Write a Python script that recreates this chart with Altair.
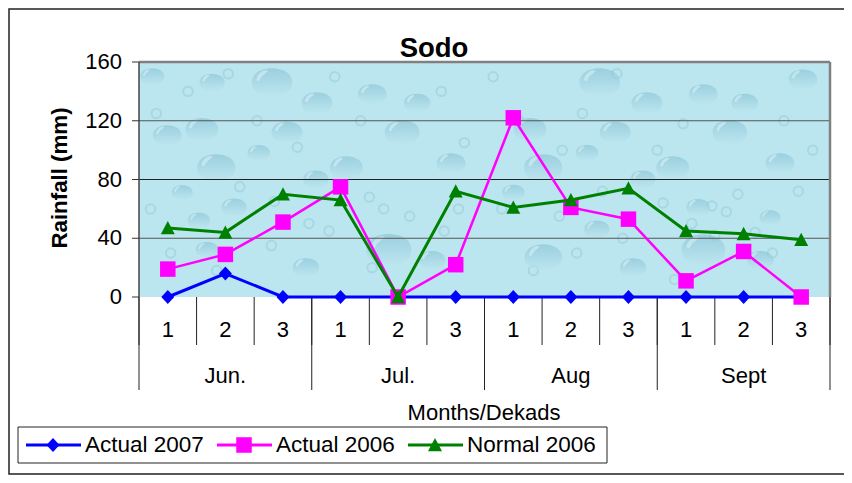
import altair as alt
import pandas as pd

FONT = "Liberation Sans"
dekads = ["1", "2", "3"] * 4
months = ["Jun.", "Jul.", "Aug", "Sept"]
series_names = ["Actual 2007", "Actual 2006", "Normal 2006"]
actual_2007 = [0, 16, 0, 0, 0, 0, 0, 0, 0, 0, 0, 0]
actual_2006 = [19, 29, 51, 75, 0, 22, 122, 61, 53, 11, 31, 0]
normal_2006 = [47, 44, 70, 66, 0, 72, 61, 66, 74, 45, 43, 39]
y_ticks = [0, 40, 80, 120, 160]
colors = ["#0000FF", "#FF00FF", "#008000"]

# background droplets: dekad position, rainfall level, size
drop_x = [2.31, 3.09, 4.05, 4.83, 1.09, 0.49, 2.57, 4.57, 1.34, 3.60, 5.42, 2.08, 3.07, 1.65, 1.04, 0.75, 4.34, 1.18, 2.90, 5.09, 0.23, 1.27,
          8.00, 8.82, 9.80, 10.52, 6.79, 8.27, 10.26, 7.02, 9.27, 11.13, 7.78, 8.75, 7.95, 7.02, 9.80, 8.58, 10.79, 11.53, 9.71, 10.96, 6.50]
drop_y = [146, 132, 138, 132, 114, 110, 112, 112, 88, 88, 91, 98, 80, 61, 52, 71, 32, 32, 20, 25, 150, 146,
          146, 132, 138, 132, 114, 112, 112, 88, 88, 91, 98, 80, 46, 27, 32, 20, 25, 148, 61, 54, 71]
drop_s = [2600, 1500, 1300, 1100, 1700, 1300, 1500, 1900, 2300, 1700, 1300, 800, 1000, 1000, 800, 700, 3200, 800, 1100, 1100, 900, 1000,
          2600, 1500, 1300, 1100, 1700, 1500, 1900, 2300, 1700, 1300, 800, 1000, 1000, 2200, 3000, 1100, 1100, 1300, 900, 700, 800]

speck_x = [0.30, 0.85, 1.55, 2.05, 2.75, 3.40, 3.85, 4.25, 5.25, 5.65, 0.20, 1.75, 2.35, 2.95, 4.00, 4.70, 5.30, 0.55, 1.35, 2.30, 3.30, 4.05, 5.55,
           6.15, 6.60, 7.35, 7.70, 8.30, 9.00, 9.45, 9.95, 10.40, 11.20, 11.70, 6.30, 7.30, 8.05, 9.10, 9.60, 10.20, 10.70, 11.45, 6.85, 7.60, 8.40, 9.30, 10.00, 11.00]
speck_y = [125, 140, 152, 120, 102, 150, 120, 60, 140, 105, 60, 75, 65, 50, 68, 55, 45, 30, 18, 35, 45, 20, 60,
           150, 120, 100, 125, 152, 100, 118, 62, 70, 120, 100, 60, 55, 72, 64, 50, 58, 44, 72, 18, 30, 40, 12, 42, 30]

base = pd.DataFrame({"x": [0], "x2": [12], "y": [0], "y2": [160]})
xs = alt.Scale(domain=[0, 12], nice=False, zero=False)
ys = alt.Scale(domain=[0, 160], nice=False, zero=False)
X = alt.X("x:Q", scale=xs, axis=None)
Y = alt.Y("y:Q", scale=ys, axis=None)

back = alt.Chart(base).mark_rect(fill="#BCE6EF").encode(X, alt.X2("x2:Q"), Y, alt.Y2("y2:Q"))
ELLIPSE = "M-0.8,0C-0.8,-0.75,0.8,-0.75,0.8,0C0.8,0.75,-0.8,0.75,-0.8,0Z"
GLINT = "M-0.62,-0.1C-0.55,-0.45,-0.25,-0.55,-0.15,-0.45C-0.25,-0.35,-0.45,-0.25,-0.5,-0.05Z"
drop_fill = alt.LinearGradient(
    gradient="linear", x1=0, x2=0, y1=0, y2=1,
    stops=[alt.GradientStop(offset=0, color="#86C0D4"), alt.GradientStop(offset=1, color="#BCE6EF")],
)
drop_df = pd.DataFrame({"x": drop_x, "y": drop_y, "s": drop_s})
drops = alt.Chart(drop_df).mark_point(
    shape=ELLIPSE, filled=True, fill=drop_fill, opacity=0.6, strokeWidth=0
).encode(X, Y, size=alt.Size("s:Q", scale=None, legend=None))
glints = alt.Chart(drop_df).mark_point(
    shape=GLINT, filled=True, color="#DDF3F7", opacity=0.55, strokeWidth=0
).encode(X, Y, size=alt.Size("s:Q", scale=None, legend=None))
specks = alt.Chart(pd.DataFrame({"x": speck_x, "y": speck_y})).mark_point(
    shape="circle", filled=False, color="#8CC3D4", opacity=0.4, size=90, strokeWidth=2
).encode(X, Y)

grid = alt.Chart(pd.DataFrame({"y": [40, 120]})).mark_rule(color="#555555", strokeWidth=1).encode(Y)
grid80 = alt.Chart(pd.DataFrame({"y": [80]})).mark_rule(color="#222222", strokeWidth=1).encode(Y)
top = alt.Chart(pd.DataFrame({"y": [160]})).mark_rule(color="#808080", strokeWidth=2.5).encode(Y)
right = alt.Chart(pd.DataFrame({"x": [12]})).mark_rule(color="#808080", strokeWidth=2.5).encode(X)

axis_y = alt.Chart(pd.DataFrame({"y": y_ticks})).mark_rule(color="#333333", strokeWidth=1).encode(
    Y, x=alt.value(-7), x2=alt.value(0))
axis_left = alt.Chart(pd.DataFrame({"x": [0]})).mark_rule(color="#444444", strokeWidth=1.5).encode(X)
y_labels = alt.Chart(pd.DataFrame({"y": y_ticks})).mark_text(
    align="right", baseline="middle", font=FONT, fontSize=22, color="black", dx=-17
).encode(Y, x=alt.value(0), text=alt.Text("y:Q"))

dek_sep = alt.Chart(pd.DataFrame({"x": list(range(0, 13))})).mark_rule(color="#222222", strokeWidth=1).encode(
    X, y=alt.value(235), y2=alt.value(283))
mon_sep = alt.Chart(pd.DataFrame({"x": [0, 3, 6, 9, 12]})).mark_rule(color="#222222", strokeWidth=1).encode(
    X, y=alt.value(235), y2=alt.value(328))
dek_text = alt.Chart(pd.DataFrame({"x": [i + 0.5 for i in range(12)], "t": dekads})).mark_text(
    font=FONT, fontSize=22, color="black", baseline="middle"
).encode(X, y=alt.value(268), text="t:N")
mon_text = alt.Chart(pd.DataFrame({"x": [1.5, 4.5, 7.5, 10.5], "t": months})).mark_text(
    font=FONT, fontSize=22, color="black", baseline="middle"
).encode(X, y=alt.value(314), text="t:N")

rows = []
for name, vals in zip(series_names, [actual_2007, actual_2006, normal_2006]):
    for i, v in enumerate(vals):
        rows.append({"x": i + 0.5, "y": v, "series": name})
df = pd.DataFrame(rows)

DIAMOND = "M0,-1L0.93,0L0,1L-0.93,0Z"
TRI = "M0,-1L1,0.9L-1,0.9Z"
shapes = [DIAMOND, "square", TRI]
sizes = [196, 240, 196]
line_w = [3, 2.5, 3]


def series_layer(i):
    d = df[df.series == series_names[i]]
    ln = alt.Chart(d).mark_line(color=colors[i], strokeWidth=line_w[i], clip=False).encode(X, Y)
    pt = alt.Chart(d).mark_point(filled=True, color=colors[i], shape=shapes[i], size=sizes[i], opacity=1, strokeWidth=0, clip=False).encode(X, Y)
    return ln + pt


title = alt.Chart(pd.DataFrame({"t": ["Sodo"]})).mark_text(
    font=FONT, fontSize=27.5, fontWeight="bold", color="black", baseline="middle"
).encode(x=alt.value(295), y=alt.value(-13), text="t:N")
xtitle = alt.Chart(pd.DataFrame({"t": ["Months/Dekads"]})).mark_text(
    font=FONT, fontSize=22, color="black", baseline="middle"
).encode(x=alt.value(345), y=alt.value(351), text="t:N")
ytitle = alt.Chart(pd.DataFrame({"t": ["Rainfall (mm)"]})).mark_text(
    font=FONT, fontSize=22.3, fontWeight="bold", color="black", angle=270, baseline="middle"
).encode(x=alt.value(-79), y=alt.value(116), text="t:N")

frame = alt.Chart(pd.DataFrame({"a": [0]})).mark_rect(fill="white", stroke="#222222", strokeWidth=1.5).encode(
    x=alt.value(-130), x2=alt.value(730), y=alt.value(-53), y2=alt.value(412))
legend_box = alt.Chart(pd.DataFrame({"a": [0]})).mark_rect(fill="white", stroke="#222222", strokeWidth=1).encode(
    x=alt.value(-121), x2=alt.value(468), y=alt.value(365), y2=alt.value(401))

leg_x0 = [-113, 78, 269]
leg_layers = []
for i, name in enumerate(series_names):
    one = pd.DataFrame({"t": [name]})
    leg_layers.append(alt.Chart(one).mark_rule(color=colors[i], strokeWidth=3).encode(
        x=alt.value(leg_x0[i]), x2=alt.value(leg_x0[i] + 55), y=alt.value(383)))
    leg_layers.append(alt.Chart(one).mark_point(filled=True, color=colors[i], shape=shapes[i], size=sizes[i], opacity=1, strokeWidth=0).encode(
        x=alt.value(leg_x0[i] + 27), y=alt.value(383)))
    leg_layers.append(alt.Chart(one).mark_text(font=FONT, fontSize=22.5, color="black", align="left", baseline="middle").encode(
        x=alt.value(leg_x0[i] + 59), y=alt.value(383), text="t:N"))

chart = alt.layer(
    frame, back, specks, drops, glints, grid, grid80, top, right, axis_left, axis_y, y_labels, dek_sep, mon_sep, dek_text, mon_text,
    title, xtitle, ytitle, legend_box, *leg_layers,
    series_layer(0), series_layer(1), series_layer(2),
).properties(
    width=691, height=235,
    autosize=alt.AutoSizeParams(type="none"),
    padding={"left": 131, "top": 54, "right": 14, "bottom": 178},
).configure_view(stroke=None)

chart.save("out.html", embed_options={"renderer": "svg", "actions": False})
